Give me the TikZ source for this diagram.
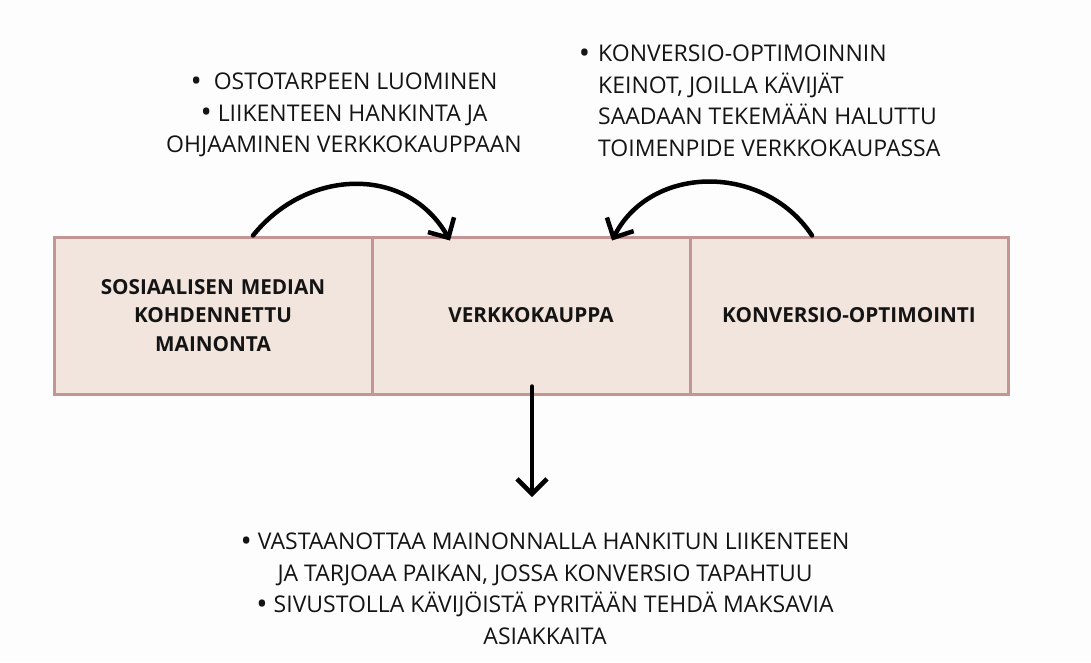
\documentclass[tikz,border=0pt]{standalone}
\usepackage{fontspec}
\setmainfont{Open Sans}
\usetikzlibrary{arrows.meta}
\definecolor{boxfill}{HTML}{F2E5DD}
\definecolor{boxline}{HTML}{C49595}
\definecolor{bgc}{HTML}{FDFDFD}
\definecolor{txt}{HTML}{141414}
\newcommand{\bul}{{\fontsize{30}{30}\selectfont\raisebox{-1.5pt}{•}}}
\tikzset{
  stagebox/.style={draw=boxline, fill=boxfill, line width=3pt, minimum width=318pt,
    minimum height=157pt, inner sep=0pt, align=center, text width=290pt,
    font=\bfseries\fontsize{20.7}{28.5}\selectfont, text=txt},
  note/.style={font=\fontsize{23}{31.5}\selectfont, text=txt, inner sep=0pt},
  flow/.style={line width=4.5pt, line cap=round, -{Straight Barb[length=15pt,width=30pt,line width=4.5pt]}}
}
\begin{document}
\begin{tikzpicture}[x=1pt,y=-1pt]
\fill[bgc] (0,0) rectangle (1091,662);
\useasboundingbox (0,0) rectangle (1091,662);
\node[stagebox] (b1) at (213,315.5) {SOSIAALISEN MEDIAN\\KOHDENNETTU\\MAINONTA};
\node[stagebox] (b2) at (531,315.5) {VERKKOKAUPPA};
\node[stagebox] (b3) at (849,315.5) {KONVERSIO-OPTIMOINTI};
\coordinate (l1) at ([xshift=40pt]b1.north);
\coordinate (l2) at ([xshift=-81pt,yshift=-5pt]b2.north);
\coordinate (r1) at ([xshift=-37pt]b3.north);
\coordinate (r2) at ([xshift=81pt,yshift=-5pt]b2.north);
\coordinate (dn) at (532,497);
\draw[flow] (l1) .. controls (307,168) and (407,165) .. (l2);
\draw[flow] (r1) .. controls (764,163) and (651,164) .. (r2);
\draw[flow] ([xshift=1pt,yshift=9pt]b2.south) -- (dn);
\node[note, align=center] (t1) at (344,115) {\bul\hspace{12pt}OSTOTARPEEN LUOMINEN\\ \bul\ LIIKENTEEN HANKINTA JA\hspace*{20pt}\\ OHJAAMINEN VERKKOKAUPPAAN};
\node[note, align=left, anchor=north west] (t2) at (598,45) {\llap{\bul\hspace{8pt}}KONVERSIO-OPTIMOINNIN\\ KEINOT, JOILLA KÄVIJÄT\\ SAADAAN TEKEMÄÄN HALUTTU\\ TOIMENPIDE VERKKOKAUPASSA};
\node[note, align=center] (t3) at (545,589) {\bul\ VASTAANOTTAA MAINONNALLA HANKITUN LIIKENTEEN\\ JA TARJOAA PAIKAN, JOSSA KONVERSIO TAPAHTUU\\ \bul\ SIVUSTOLLA KÄVIJÖISTÄ PYRITÄÄN TEHDÄ MAKSAVIA\\ ASIAKKAITA};
\end{tikzpicture}
\end{document}
